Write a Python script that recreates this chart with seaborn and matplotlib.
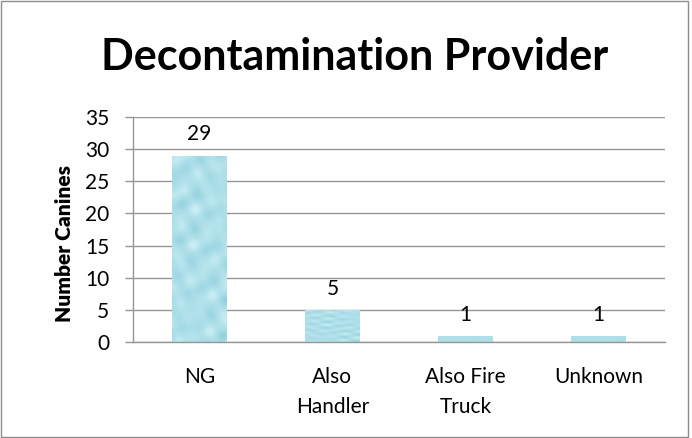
import matplotlib
matplotlib.use("Agg")
import matplotlib.pyplot as plt
import seaborn as sns
import pandas as pd
import numpy as np

# Data
providers = ["NG", "Also\nHandler", "Also Fire\nTruck", "Unknown"]
canines = [29, 5, 1, 1]

df = pd.DataFrame({"provider": providers, "canines": canines})

sns.set_theme(style="white")
plt.rcParams["font.family"] = ["Lato", "DejaVu Sans"]
plt.rcParams["text.color"] = "black"
plt.rcParams["xtick.color"] = "black"
plt.rcParams["ytick.color"] = "black"
plt.rcParams["axes.labelcolor"] = "black"

fig = plt.figure(figsize=(6.92, 4.38), dpi=100)
ax = fig.add_axes([0.192, 0.219, 0.769, 0.514])

sns.barplot(data=df, x="provider", y="canines", color="#a8dce7",
            width=0.41, saturation=1, edgecolor="none", ax=ax)

# soft water-drop like texture clipped to each bar
gy, gx = np.mgrid[0:200, 0:60]
tex = (np.sin(gx / 5.3) * np.cos(gy / 6.1) + 0.7 * np.sin((gx + 1.7 * gy) / 9.0)
       + 0.5 * np.cos((2.3 * gx - gy) / 7.4) + 0.3 * np.sin(gy / 3.1 + gx / 11.0))
cmap = matplotlib.colors.LinearSegmentedColormap.from_list(
    "water", ["#93d1dd", "#a8dce7", "#b5e3ec", "#cdeef4"])
for bar in ax.patches:
    x0, y0 = bar.get_x(), bar.get_y()
    w, h = bar.get_width(), bar.get_height()
    im = ax.imshow(tex, cmap=cmap, extent=(x0, x0 + w, y0, y0 + h),
                   aspect="auto", zorder=bar.get_zorder() + 0.1, interpolation="bicubic")
    im.set_clip_path(bar)

ax.set_xlim(-0.5, len(providers) - 0.5)

for i, v in enumerate(canines):
    ax.annotate(str(v), (i, v), xytext=(0, 8), textcoords="offset points",
                ha="center", va="bottom", fontsize=15)

ax.set_ylim(0, 35)
ax.set_yticks(range(0, 36, 5))
ax.yaxis.grid(True, color="#959595", linewidth=1)
ax.set_axisbelow(True)
ax.tick_params(axis="y", left=True, length=6, width=1, color="#959595", labelsize=15, pad=11)
ax.tick_params(axis="x", bottom=False, labelsize=15, pad=12)
for lbl in ax.get_xticklabels():
    lbl.set_linespacing(1.6)
for side in ["top", "right"]:
    ax.spines[side].set_visible(False)
for side in ["left", "bottom"]:
    ax.spines[side].set_color("#959595")
    ax.spines[side].set_linewidth(1)

ax.set_xlabel("")
ax.set_ylabel("Number Canines", fontsize=15, fontweight="heavy")
ax.yaxis.set_label_coords(-0.11, 0.44)

fig.text(0.512, 0.87, "Decontamination Provider", ha="center", va="center",
         fontsize=31, fontweight="bold")

# Outer chart border
fig.patches.append(plt.Rectangle((0.002, 0.002), 0.992, 0.996, transform=fig.transFigure,
                                 fill=False, edgecolor="#8c8c8c", linewidth=1))

fig.savefig("out.png", dpi=100)
